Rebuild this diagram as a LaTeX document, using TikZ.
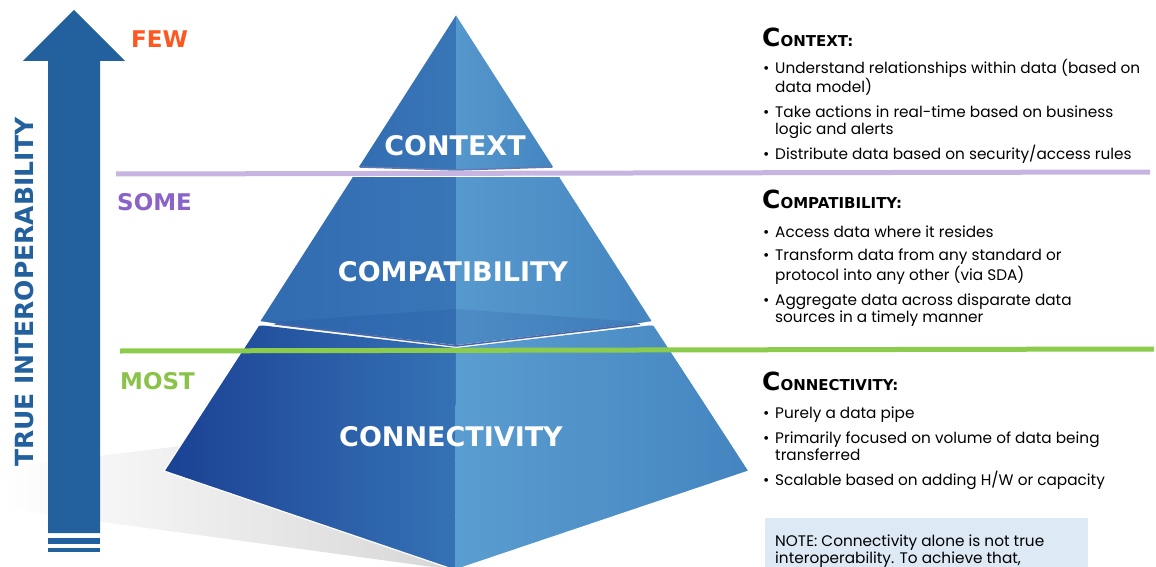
\documentclass[tikz,border=0pt]{standalone}
\usepackage{fontspec}
\setmainfont{Poppins}
\newfontfamily\heavyfont{DejaVu Sans}
\newfontfamily\bodyfont{Poppins}
\usetikzlibrary{positioning}

\definecolor{arrowblue}{HTML}{22619E}
\definecolor{fewred}{HTML}{FF5722}
\definecolor{somepurple}{HTML}{8A63C9}
\definecolor{mostgreen}{HTML}{8BC34A}
\definecolor{lilac}{HTML}{C8B4E1}
\definecolor{lime}{HTML}{8CCC4C}
\definecolor{notefill}{HTML}{DDE9F5}
\definecolor{darkface}{HTML}{1B4194}
\definecolor{midface}{HTML}{3572B5}
\definecolor{lightface}{HTML}{5A9DD0}
\definecolor{sideface}{HTML}{4485C0}

\newcommand{\headtitle}[2]{{\fontsize{25}{25}\selectfont #1}{\fontsize{15}{15}\selectfont #2}}
\newcommand{\bul}{\makebox[12pt][l]{\textbullet}}

\begin{document}
\begin{tikzpicture}[x=1pt, y=-1pt,
    tierlabel/.style={text=white, font=\heavyfont\bfseries\fontsize{27}{27}\selectfont,
      anchor=base, inner sep=0},
    levellabel/.style={font=\heavyfont\bfseries\fontsize{23}{23}\selectfont,
      anchor=base west, inner sep=0},
    headtext/.style={font=\heavyfont\bfseries, anchor=base west, inner sep=0},
    bodytext/.style={font=\bodyfont\fontsize{15.3}{17}\selectfont, anchor=base west,
      inner sep=0, align=left},
    divider/.style={line width=5pt},
    rim/.style={draw=white, line width=1.2pt, line join=round}]
    \useasboundingbox (0,0) rectangle (1156,567);
    % Shadow
    \shade[left color=white, right color=black!16]
    (0,468) -- (180,446) -- (455,570) -- (0,508) -- cycle;
    % Arrow
    \fill[arrowblue] (48,61) -- (23,61) -- (74,10) -- (125,61) -- (100,61)
    -- (100,533) -- (48,533) -- cycle;
    \fill[arrowblue] (48,538) rectangle (100,544);
    \fill[arrowblue] (48,548) rectangle (100,552);
    % Pyramid
    \shade[left color=darkface, right color=midface]
    (259,325) -- (164,471) -- (455,570) -- (456,348) -- cycle;
    \shade[left color=lightface, right color=sideface]
    (456,348) -- (455,570) -- (749,471) -- (653,325) -- cycle;
    \shade[left color=midface!85!darkface, right color=midface!90!lightface]
    (352,177) -- (259,322) -- (456,345) -- (456,177) -- cycle;
    \shade[left color=lightface!85!sideface, right color=sideface]
    (456,177) -- (456,345) -- (653,322) -- (560,177) -- cycle;
    \shade[left color=midface!90!darkface, right color=midface!90!lightface]
    (456,14) -- (358,167) -- (456,170) -- cycle;
    \shade[left color=lightface!80!sideface, right color=sideface]
    (456,14) -- (456,170) -- (554,167) -- cycle;
    % top face of the lower tier
    \fill[darkface, opacity=0.15] (259,323) -- (456,309) -- (653,323) -- (456,346) -- cycle;
    \draw[darkface!80, line width=1.5pt] (275,324) -- (456,346) -- (640,324);
    \fill[white] (259,321) -- (276,323.5) -- (258,326) -- cycle;
    \fill[white] (653,321) -- (637,323.5) -- (655,326) -- cycle;
    \draw[darkface!70, line width=1.5pt] (360,167) -- (456,170) -- (552,167);
    % rims
    \draw[rim] (358,167) -- (456,14) -- (554,167);
    \draw[rim] (352,177) -- (259,322);
    \draw[rim] (560,177) -- (653,322);
    \draw[rim] (258,326) -- (164,471) -- (455,570) -- (749,471) -- (655,326);
    % Lines
    \coordinate (lilacL) at (116,174);
    \coordinate (lilacR) at (1150,172);
    \coordinate (limeL) at (120,351);
    \coordinate (limeR) at (1154,349);
    \draw[divider, lilac] (lilacL) -- (lilacR);
    \draw[divider, lime] (limeL) -- (limeR);
    % Nodes
    \node[tierlabel] (context) at (455,156) {CONTEXT};
    \node[tierlabel] (compat) at (453,281) {COMPATIBILITY};
    \node[tierlabel] (connect) at (451,446) {CONNECTIVITY};
    \node[levellabel, text=fewred] (few) at (131,48) {FEW};
    \node[levellabel, text=somepurple] (some) at (117,210) {SOME};
    \node[levellabel, text=mostgreen] (most) at (120,389) {MOST};
    \node[text=arrowblue, font=\heavyfont\bfseries\fontsize{25}{25}\selectfont,
      rotate=90, inner sep=0] (axis) at (24,292) {TRUE INTEROPERABILITY};
    % Context text
    \node[headtext] (ctxhead) at (762,47) {\headtitle{C}{ONTEXT:}};
    \node[bodytext] (ctxa) at (763,93)
    {\bul Understand relationships within data (based on\\\hspace*{12pt}data model)};
    \node[bodytext] (ctxb) at (763,135)
    {\bul Take actions in real-time based on business\\\hspace*{12pt}logic and alerts};
    \node[bodytext] (ctxc) at (763,160)
    {\bul Distribute data based on security/access rules};
    % Compatibility text
    \node[headtext] (comphead) at (762,208) {\headtitle{C}{OMPATIBILITY:}};
    \node[bodytext] (compa) at (763,237) {\bul Access data where it resides};
    \node[bodytext] (compb) at (763,280)
    {\bul Transform data from any standard or\\\hspace*{12pt}protocol into any other (via SDA)};
    \node[bodytext] (compc) at (763,322)
    {\bul Aggregate data across disparate data\\\hspace*{12pt}sources in a timely manner};
    % Connectivity text
    \node[headtext] (connhead) at (762,390) {\headtitle{C}{ONNECTIVITY:}};
    \node[bodytext] (conna) at (763,418) {\bul Purely a data pipe};
    \node[bodytext] (connb) at (763,460)
    {\bul Primarily focused on volume of data being\\\hspace*{12pt}transferred};
    \node[bodytext] (connc) at (763,485)
    {\bul Scalable based on adding H/W or capacity};
    % Note
    \fill[notefill] (765,518) rectangle (1088,570);
    \node[bodytext] (note) at (775,563)
    {NOTE: Connectivity alone is not true\\interoperability. To achieve that,};
\end{tikzpicture}
\end{document}
